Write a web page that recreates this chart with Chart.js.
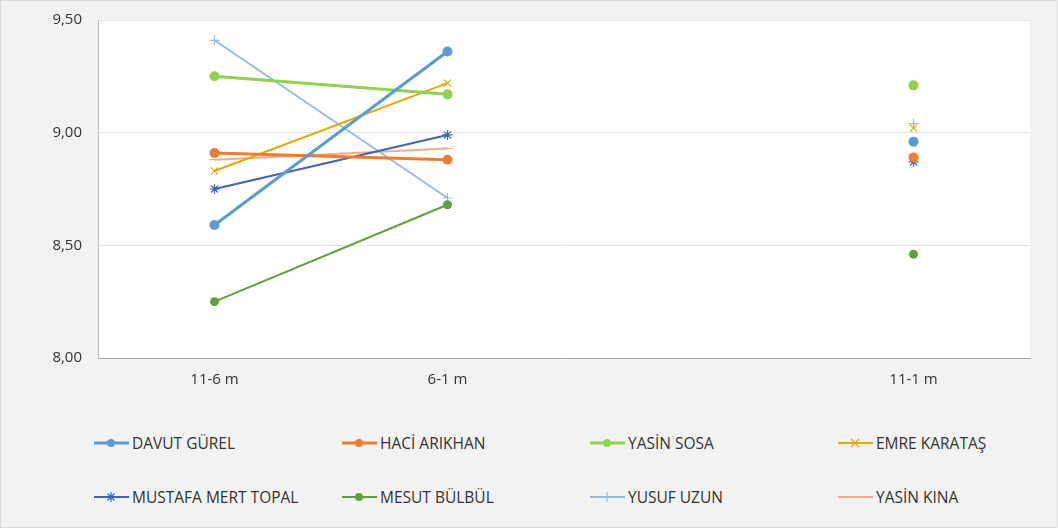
<!DOCTYPE html>
<html>
<head>
<meta charset="utf-8">
<script src="https://cdn.jsdelivr.net/npm/chart.js"></script>
<style>
  html, body { margin: 0; padding: 0; }
  body { width: 1058px; height: 528px; overflow: hidden; }
  #wrap {
    position: relative; width: 1058px; height: 528px;
    background: #F2F2F2; box-shadow: inset 0 0 0 1px #D9D9D9; overflow: hidden;
    font-family: "Open Sans", "Noto Sans", sans-serif;
  }
  #chart { position: absolute; left: 0; top: -5px; }
  #legend {
    position: absolute; left: 94px; top: 430px;
    display: grid; grid-template-columns: repeat(4, 248px); grid-auto-rows: 54px;
  }
  .item { display: flex; align-items: center; height: 26px; font-size: 15.5px; color: #333333; white-space: nowrap; }
  .item svg { margin-right: 3px; flex: none; }
</style>
</head>
<body>
<div id="wrap">
  <canvas id="chart" width="1058" height="415"></canvas>
  <div id="legend"></div>
</div>
<script>
// Données
const categories = ['11-6 m', '6-1 m', '', '11-1 m'];
const yTicks = [8.0, 8.5, 9.0, 9.5];

const davutGurel       = [8.59, 9.36, null, 8.96];
const haciArikhan      = [8.91, 8.88, null, 8.89];
const yasinSosa        = [9.25, 9.17, null, 9.21];
const emreKaratas      = [8.83, 9.22, null, 9.02];
const mustafaMertTopal = [8.75, 8.99, null, 8.87];
const mesutBulbul      = [8.25, 8.68, null, 8.46];
const yusufUzun        = [9.41, 8.71, null, 9.04];
const yasinKina        = [8.88, 8.93, null, 8.90];

function serie(label, data, color, style, width, radius) {
    return {
        label: label, data: data,
        borderColor: color, backgroundColor: color,
        pointBackgroundColor: color, pointBorderColor: color,
        borderWidth: width, pointStyle: style,
        pointRadius: radius, pointBorderWidth: style === 'circle' ? 0 : 1.2,
        spanGaps: false, tension: 0
    };
}

const datasets = [
    serie('DAVUT GÜREL', davutGurel, '#5B9BD5', 'circle', 3, 5),
    serie('HACİ ARIKHAN', haciArikhan, '#ED7D31', 'circle', 3, 5),
    serie('YASİN SOSA', yasinSosa, '#92D050', 'circle', 3, 5),
    serie('EMRE KARATAŞ', emreKaratas, '#E6A700', 'crossRot', 2, 5),
    serie('MUSTAFA MERT TOPAL', mustafaMertTopal, '#3F64B5', 'star', 2, 5),
    serie('MESUT BÜLBÜL', mesutBulbul, '#62A03C', 'circle', 2, 4.5),
    serie('YUSUF UZUN', yusufUzun, '#95BCE5', 'cross', 2, 5),
    serie('YASİN KINA', yasinKina, '#F4AA8C', 'line', 2, 5)
];

// Fond blanc de la zone de tracé
const plotBg = {
    id: 'plotBg',
    beforeDraw(chart) {
        const a = chart.chartArea, ctx = chart.ctx;
        ctx.save();
        ctx.fillStyle = '#FFFFFF';
        ctx.fillRect(a.left, a.top, a.right - a.left, a.bottom - a.top);
        ctx.restore();
    }
};

const chart = new Chart(document.getElementById('chart'), {
    type: 'line',
    data: { labels: categories, datasets: datasets },
    options: {
        responsive: false,
        animation: false,
        layout: { padding: { top: 10, right: 28, left: 0, bottom: 0 } },
        plugins: { legend: { display: false }, tooltip: { enabled: false } },
        scales: {
            x: {
                offset: true,
                grid: { display: true, drawOnChartArea: false, drawTicks: false },
                border: { display: true, color: '#A6A6A6', width: 1 },
                ticks: { color: '#333333', font: { family: 'Open Sans', size: 15 }, padding: 13, autoSkip: false, maxRotation: 0 },
                afterFit(scale) { scale.height = 52; }
            },
            y: {
                min: 8, max: 9.5,
                afterBuildTicks(scale) { scale.ticks = yTicks.map(v => ({ value: v })); },
                grid: { color: '#E4E4E4', drawTicks: false },
                border: { display: true, color: '#BFBFBF', width: 1 },
                ticks: {
                    color: '#333333', font: { family: 'Open Sans', size: 15 }, padding: 16,
                    callback: v => Number(v).toFixed(2).replace('.', ',')
                },
                afterFit(scale) { scale.width = 98; }
            }
        }
    },
    plugins: [plotBg]
});

// Légende HTML (4 colonnes, 2 lignes)
function swatch(ds) {
    const c = ds.borderColor, w = ds.borderWidth;
    let mark = '';
    if (ds.pointStyle === 'circle') mark = '<circle cx="17" cy="6" r="4" fill="' + c + '"/>';
    if (ds.pointStyle === 'crossRot') mark = '<path d="M13 2L21 10M21 2L13 10" stroke="' + c + '" stroke-width="1.2"/>';
    if (ds.pointStyle === 'star') mark = '<path d="M17 1V11M12 6H22M13.5 2.5L20.5 9.5M20.5 2.5L13.5 9.5" stroke="' + c + '" stroke-width="1.2"/>';
    if (ds.pointStyle === 'cross') mark = '<path d="M17 1V11" stroke="' + c + '" stroke-width="1.2"/>';
    return '<svg width="35" height="12"><line x1="0" y1="6" x2="35" y2="6" stroke="' + c + '" stroke-width="' + w + '"/>' + mark + '</svg>';
}
const legend = document.getElementById('legend');
datasets.forEach(ds => {
    const item = document.createElement('div');
    item.className = 'item';
    item.innerHTML = swatch(ds);
    const span = document.createElement('span');
    span.textContent = ds.label;
    item.appendChild(span);
    legend.appendChild(item);
});
</script>
</body>
</html>
